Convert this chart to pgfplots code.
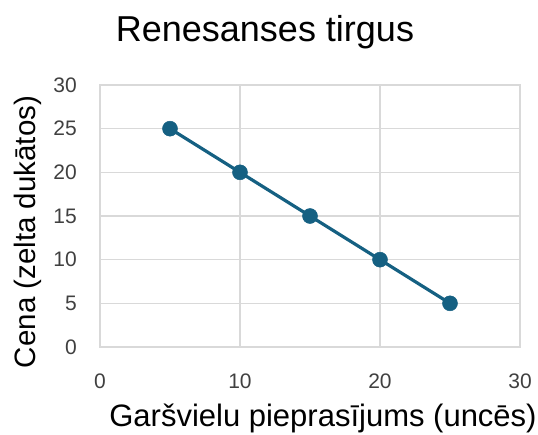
\documentclass[border=0pt]{standalone}
\usepackage{pgfplots}
\pgfplotsset{compat=1.18}
\usepackage{fontspec}
\setmainfont{Liberation Sans}
\definecolor{linec}{HTML}{156082}
\definecolor{gridc}{HTML}{D9D9D9}
\definecolor{tickc}{HTML}{404040}
\begin{document}
\begin{tikzpicture}
\useasboundingbox (-100pt,-87pt) rectangle (438pt,347pt);
\begin{axis}[at={(0,0)}, anchor=south west, scale only axis,
  width=420pt, height=262pt,
  xmin=0, xmax=30, ymin=0, ymax=30,
  xtick={0,10,20,30}, ytick={0,5,...,30},
  grid=major, major grid style={gridc, line width=1.2pt},
  axis line style={gridc, line width=1.2pt},
  tick style={draw=none},
  /pgf/number format/assume math mode=true,
  ticklabel style={font=\fontsize{21}{25}\selectfont, text=tickc, inner sep=0pt},
  xticklabel style={anchor=base, yshift=-41pt},
  yticklabel style={anchor=east, xshift=-23pt},
  clip=false]
\addplot[linec, line width=3.2pt, mark=*, mark size=7.5pt, mark options={fill=linec, draw=linec, line width=0.5pt}]
  coordinates {(5,25)(10,20)(15,15)(20,10)(25,5)};
\end{axis}
\node[anchor=base, inner sep=0pt, text=black] at (165pt,305pt) {\fontsize{36}{42}\selectfont Renesanses tirgus};
\node[anchor=base, inner sep=0pt, text=black] at (223pt,-79pt) {\fontsize{31}{36}\selectfont Garšvielu pieprasījums (uncēs)};
\node[anchor=base, rotate=90, inner sep=0pt, text=black] at (-64pt,115pt) {\fontsize{29.5}{35}\selectfont Cena (zelta dukātos)};
\end{tikzpicture}
\end{document}
